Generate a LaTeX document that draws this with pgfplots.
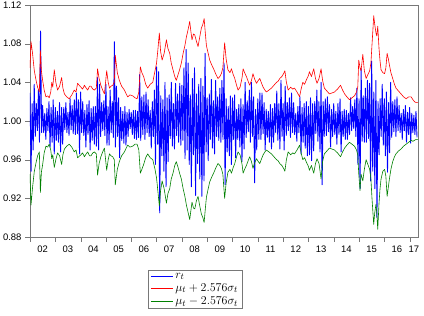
\documentclass[border=0pt]{standalone}
\usepackage{pgfplots}
\pgfplotsset{compat=1.18}
\usepackage{pgfplotstable}
\usepackage{fontspec}
\setmainfont{Liberation Sans}
\definecolor{axgray}{RGB}{120,120,120}
\definecolor{dgreen}{RGB}{0,128,0}

\pgfplotstableread[row sep=\\]{
r\\
1.029\\ 0.948\\ 1.018\\ 0.970\\ 1.038\\ 0.984\\ 1.018\\ 0.990\\ 1.032\\ 0.978\\ 1.093\\ 0.988\\ 1.016\\ 0.988\\ 1.008\\ 0.981\\ 1.013\\ 0.990\\ 1.020\\ 0.973\\ 1.014\\ 0.978\\ 1.022\\ 0.966\\
1.014\\ 0.980\\ 1.010\\ 0.978\\ 1.019\\ 0.968\\ 1.014\\ 0.976\\ 1.014\\ 0.991\\ 1.019\\ 0.988\\ 1.009\\ 0.985\\ 1.023\\ 0.991\\ 1.016\\ 0.987\\ 1.022\\ 0.986\\ 1.029\\ 0.987\\ 1.022\\ 0.966\\
1.030\\ 0.988\\ 1.020\\ 0.985\\ 1.011\\ 0.973\\ 1.017\\ 0.986\\ 1.021\\ 0.970\\ 1.013\\ 0.980\\ 1.015\\ 0.976\\ 1.015\\ 0.974\\ 1.045\\ 0.970\\ 1.038\\ 0.984\\ 1.019\\ 0.990\\ 1.021\\ 0.985\\
1.038\\ 0.975\\ 1.015\\ 0.975\\ 1.032\\ 0.988\\ 1.020\\ 0.983\\ 1.082\\ 0.973\\ 1.036\\ 0.984\\ 1.024\\ 0.962\\ 1.014\\ 0.980\\ 1.010\\ 0.977\\ 1.015\\ 0.975\\ 1.009\\ 0.984\\ 1.012\\ 0.992\\
1.009\\ 0.986\\ 1.011\\ 0.982\\ 1.011\\ 0.981\\ 1.010\\ 0.983\\ 1.048\\ 0.980\\ 1.025\\ 0.986\\ 1.027\\ 0.981\\ 1.030\\ 0.988\\ 1.022\\ 0.984\\ 1.011\\ 0.972\\ 1.020\\ 0.984\\ 1.032\\ 0.955\\
1.056\\ 0.976\\ 1.051\\ 0.905\\ 1.026\\ 0.964\\ 1.022\\ 0.948\\ 1.040\\ 0.932\\ 1.024\\ 0.958\\ 1.027\\ 0.982\\ 1.040\\ 0.974\\ 1.018\\ 0.971\\ 1.039\\ 0.985\\ 1.028\\ 0.978\\ 1.039\\ 0.975\\
1.037\\ 0.980\\ 1.055\\ 0.961\\ 1.074\\ 0.970\\ 1.060\\ 0.955\\ 1.027\\ 0.932\\ 1.044\\ 0.965\\ 1.055\\ 0.923\\ 1.028\\ 0.956\\ 1.038\\ 0.940\\ 1.044\\ 0.922\\ 1.036\\ 0.938\\ 1.070\\ 0.968\\
1.024\\ 0.959\\ 1.028\\ 0.981\\ 1.043\\ 0.972\\ 1.021\\ 0.966\\ 1.042\\ 0.984\\ 1.025\\ 0.980\\ 1.034\\ 0.978\\ 1.042\\ 0.981\\ 1.060\\ 0.934\\ 1.023\\ 0.968\\ 1.015\\ 0.964\\ 1.026\\ 0.955\\
1.024\\ 0.981\\ 1.027\\ 0.962\\ 1.012\\ 0.981\\ 1.017\\ 0.973\\ 1.023\\ 0.958\\ 1.017\\ 0.971\\ 1.040\\ 0.983\\ 1.021\\ 0.989\\ 1.032\\ 0.978\\ 1.040\\ 0.984\\ 1.025\\ 0.936\\ 1.012\\ 0.970\\
1.023\\ 0.981\\ 1.029\\ 0.981\\ 1.029\\ 0.987\\ 1.019\\ 0.970\\ 1.012\\ 0.983\\ 1.010\\ 0.978\\ 1.017\\ 0.971\\ 1.013\\ 0.978\\ 1.018\\ 0.988\\ 1.031\\ 0.980\\ 1.018\\ 0.971\\ 1.042\\ 0.984\\
1.018\\ 0.970\\ 1.036\\ 0.985\\ 1.019\\ 0.990\\ 1.024\\ 0.983\\ 1.029\\ 0.988\\ 1.019\\ 0.986\\ 1.008\\ 0.979\\ 1.015\\ 0.988\\ 1.025\\ 0.966\\ 1.014\\ 0.978\\ 1.018\\ 0.972\\ 1.020\\ 0.964\\
1.015\\ 0.965\\ 1.024\\ 0.959\\ 1.018\\ 0.969\\ 1.020\\ 0.987\\ 1.032\\ 0.979\\ 1.020\\ 0.968\\ 1.040\\ 0.934\\ 1.020\\ 0.984\\ 1.023\\ 0.985\\ 1.025\\ 0.989\\ 1.017\\ 0.973\\ 1.012\\ 0.984\\
1.018\\ 0.986\\ 1.010\\ 0.976\\ 1.018\\ 0.986\\ 1.023\\ 0.968\\ 1.010\\ 0.984\\ 1.012\\ 0.981\\ 1.011\\ 0.981\\ 1.008\\ 0.986\\ 1.024\\ 0.990\\ 1.015\\ 0.992\\ 1.022\\ 0.984\\ 1.034\\ 0.955\\
1.023\\ 0.930\\ 1.054\\ 0.979\\ 1.026\\ 0.978\\ 1.034\\ 0.978\\ 1.042\\ 0.982\\ 1.039\\ 0.938\\ 1.062\\ 0.948\\ 1.030\\ 0.930\\ 1.042\\ 0.900\\ 1.020\\ 0.965\\ 1.023\\ 0.984\\ 1.038\\ 0.975\\
1.023\\ 0.964\\ 1.030\\ 0.947\\ 1.019\\ 0.967\\ 1.040\\ 0.983\\ 1.020\\ 0.989\\ 1.022\\ 0.984\\ 1.025\\ 0.990\\ 1.016\\ 0.988\\ 1.008\\ 0.981\\ 1.012\\ 0.990\\ 1.016\\ 0.978\\ 1.009\\ 0.986\\
1.014\\ 0.977\\ 1.008\\ 0.988\\ 1.006\\ 0.986\\ 1.010\\ 0.983\\
}\ret

\pgfplotstableread[row sep=\\]{
x u l\\
2002.00 1.055 0.945\\ 2002.04 1.082 0.913\\ 2002.10 1.070 0.931\\ 2002.17 1.052 0.948\\ 2002.24 1.042 0.957\\
2002.30 1.035 0.964\\ 2002.37 1.030 0.968\\ 2002.41 1.073 0.926\\ 2002.45 1.052 0.947\\ 2002.50 1.042 0.955\\
2002.56 1.032 0.967\\ 2002.63 1.025 0.974\\ 2002.70 1.026 0.973\\ 2002.76 1.024 0.976\\ 2002.82 1.030 0.970\\
2002.86 1.040 0.961\\ 2002.90 1.035 0.965\\ 2002.96 1.053 0.952\\ 2003.02 1.040 0.960\\ 2003.09 1.032 0.967\\
2003.17 1.036 0.964\\ 2003.25 1.045 0.955\\ 2003.30 1.034 0.965\\ 2003.36 1.028 0.971\\ 2003.45 1.025 0.974\\
2003.55 1.023 0.976\\ 2003.65 1.027 0.973\\ 2003.75 1.032 0.968\\ 2003.82 1.030 0.970\\ 2003.88 1.039 0.962\\
2004.01 1.035 0.965\\ 2004.08 1.033 0.967\\ 2004.15 1.037 0.963\\ 2004.22 1.034 0.966\\ 2004.28 1.032 0.968\\
2004.35 1.036 0.964\\ 2004.41 1.036 0.964\\ 2004.48 1.033 0.967\\ 2004.54 1.032 0.968\\ 2004.62 1.034 0.966\\
2004.67 1.054 0.944\\ 2004.73 1.044 0.956\\ 2004.80 1.037 0.963\\ 2004.87 1.032 0.968\\ 2004.94 1.028 0.972\\
2005.03 1.052 0.949\\ 2005.09 1.040 0.960\\ 2005.14 1.034 0.966\\ 2005.20 1.036 0.964\\ 2005.27 1.037 0.963\\
2005.33 1.040 0.960\\ 2005.37 1.068 0.934\\ 2005.45 1.050 0.950\\ 2005.53 1.042 0.958\\ 2005.62 1.036 0.964\\
2005.73 1.032 0.968\\ 2005.80 1.028 0.972\\ 2005.86 1.025 0.975\\ 2005.95 1.027 0.973\\ 2006.06 1.026 0.974\\
2006.15 1.024 0.976\\ 2006.23 1.023 0.976\\ 2006.30 1.030 0.970\\ 2006.36 1.056 0.946\\ 2006.42 1.050 0.950\\
2006.49 1.046 0.955\\ 2006.57 1.038 0.962\\ 2006.65 1.034 0.966\\ 2006.75 1.038 0.962\\ 2006.85 1.040 0.960\\
2006.94 1.052 0.950\\ 2007.00 1.060 0.941\\ 2007.05 1.073 0.928\\ 2007.11 1.091 0.912\\ 2007.16 1.072 0.928\\
2007.22 1.063 0.938\\ 2007.30 1.070 0.930\\ 2007.39 1.084 0.915\\ 2007.45 1.075 0.925\\ 2007.52 1.070 0.930\\
2007.58 1.060 0.940\\ 2007.65 1.053 0.946\\ 2007.72 1.046 0.954\\ 2007.78 1.042 0.958\\ 2007.85 1.048 0.952\\
2007.91 1.053 0.946\\ 2007.98 1.060 0.940\\ 2008.05 1.070 0.930\\ 2008.12 1.078 0.922\\ 2008.18 1.087 0.913\\
2008.25 1.095 0.905\\ 2008.31 1.103 0.898\\ 2008.36 1.092 0.908\\ 2008.40 1.084 0.916\\ 2008.46 1.090 0.910\\
2008.51 1.089 0.909\\ 2008.58 1.082 0.918\\ 2008.64 1.077 0.922\\ 2008.70 1.086 0.913\\ 2008.77 1.096 0.904\\
2008.83 1.100 0.900\\ 2008.88 1.106 0.895\\ 2008.93 1.090 0.910\\ 2008.97 1.078 0.921\\ 2009.04 1.070 0.930\\
2009.10 1.063 0.937\\ 2009.18 1.058 0.942\\ 2009.27 1.053 0.947\\ 2009.35 1.048 0.952\\ 2009.43 1.044 0.956\\
2009.50 1.046 0.954\\ 2009.56 1.049 0.951\\ 2009.62 1.055 0.945\\ 2009.69 1.081 0.920\\ 2009.75 1.064 0.936\\
2009.82 1.053 0.947\\ 2009.90 1.050 0.950\\ 2009.96 1.054 0.946\\ 2010.03 1.048 0.952\\ 2010.09 1.044 0.956\\
2010.15 1.038 0.962\\ 2010.22 1.032 0.968\\ 2010.30 1.035 0.965\\ 2010.38 1.045 0.955\\ 2010.42 1.054 0.946\\
2010.48 1.050 0.950\\ 2010.55 1.046 0.954\\ 2010.62 1.041 0.959\\ 2010.68 1.037 0.963\\ 2010.75 1.042 0.958\\
2010.81 1.049 0.951\\ 2010.88 1.043 0.957\\ 2010.95 1.039 0.961\\ 2011.02 1.042 0.958\\ 2011.08 1.044 0.956\\
2011.15 1.039 0.961\\ 2011.21 1.035 0.965\\ 2011.28 1.032 0.968\\ 2011.34 1.030 0.970\\ 2011.44 1.032 0.968\\
2011.54 1.034 0.966\\ 2011.64 1.037 0.963\\ 2011.74 1.040 0.960\\ 2011.80 1.041 0.959\\ 2011.87 1.044 0.956\\
2011.95 1.046 0.954\\ 2012.02 1.049 0.951\\ 2012.07 1.052 0.948\\ 2012.13 1.040 0.960\\ 2012.20 1.032 0.968\\
2012.30 1.035 0.965\\ 2012.38 1.033 0.967\\ 2012.45 1.034 0.966\\ 2012.55 1.030 0.970\\ 2012.65 1.025 0.975\\
2012.72 1.034 0.966\\ 2012.78 1.040 0.960\\ 2012.85 1.038 0.962\\ 2012.91 1.042 0.958\\ 2013.00 1.047 0.953\\
2013.04 1.051 0.949\\ 2013.12 1.046 0.954\\ 2013.21 1.054 0.946\\ 2013.28 1.044 0.956\\ 2013.34 1.039 0.961\\
2013.42 1.044 0.956\\ 2013.50 1.054 0.940\\ 2013.56 1.042 0.958\\ 2013.63 1.034 0.966\\ 2013.73 1.031 0.969\\
2013.83 1.028 0.972\\ 2013.93 1.029 0.971\\ 2014.03 1.030 0.970\\ 2014.15 1.033 0.967\\ 2014.27 1.037 0.963\\
2014.35 1.032 0.968\\ 2014.43 1.028 0.972\\ 2014.52 1.025 0.975\\ 2014.62 1.022 0.978\\ 2014.72 1.024 0.976\\
2014.82 1.026 0.974\\ 2014.90 1.030 0.970\\ 2014.95 1.035 0.965\\ 2014.99 1.063 0.945\\ 2015.04 1.055 0.928\\
2015.08 1.052 0.945\\ 2015.15 1.069 0.938\\ 2015.21 1.052 0.950\\ 2015.28 1.044 0.960\\ 2015.35 1.048 0.955\\
2015.42 1.052 0.950\\ 2015.47 1.060 0.940\\ 2015.51 1.078 0.921\\ 2015.55 1.095 0.905\\ 2015.58 1.109 0.893\\
2015.62 1.100 0.905\\ 2015.67 1.091 0.914\\ 2015.70 1.088 0.905\\ 2015.74 1.098 0.888\\ 2015.79 1.075 0.915\\
2015.83 1.062 0.930\\ 2015.87 1.053 0.940\\ 2015.94 1.050 0.948\\ 2016.01 1.049 0.950\\ 2016.06 1.055 0.943\\
2016.11 1.070 0.922\\ 2016.16 1.064 0.932\\ 2016.20 1.058 0.940\\ 2016.26 1.050 0.950\\ 2016.33 1.044 0.958\\
2016.40 1.038 0.963\\ 2016.46 1.034 0.966\\ 2016.56 1.031 0.969\\ 2016.66 1.028 0.971\\ 2016.76 1.025 0.974\\
2016.86 1.023 0.976\\ 2016.96 1.025 0.978\\ 2017.06 1.025 0.980\\ 2017.13 1.022 0.979\\ 2017.19 1.020 0.980\\
2017.26 1.019 0.981\\ 2017.32 1.019 0.981\\
}\bands

\begin{document}
\begin{tikzpicture}
\begin{axis}[
  at={(30bp,79bp)}, anchor=south west,
  scale only axis, width=388bp, height=232bp,
  xmin=2002, xmax=2017.33, ymin=0.88, ymax=1.12,
  axis line style={draw=axgray},
  tick style={draw=axgray},
  tick align=outside,
  xtick pos=bottom, ytick pos=left,
  major tick length=5bp, minor tick length=2.5bp,
  xtick={2002,2003,...,2018},
  xticklabels={},
  minor x tick num=3,
  extra x ticks={2002.5,2003.5,2004.5,2005.5,2006.5,2007.5,2008.5,2009.5,2010.5,2011.5,2012.5,2013.5,2014.5,2015.5,2016.5,2017.17},
  extra x tick labels={02,03,04,05,06,07,08,09,10,11,12,13,14,15,16,17},
  extra x tick style={tick style={draw=none}},
  ytick={0.88,0.92,0.96,1.00,1.04,1.08,1.12},
  yticklabels={0.88,0.92,0.96,1.00,1.04,1.08,1.12},
  /pgf/number format/assume math mode=true,
  tick label style={font=\fontsize{9.5}{11}\selectfont},
  legend style={at={(0.305,-0.143)}, anchor=north west, draw=axgray,
    font=\fontsize{12.5}{13}\selectfont, inner xsep=2bp, inner ysep=0.5bp,
    row sep=0bp, cells={anchor=west}},
  legend image code/.code={\draw[#1] (0bp,0bp) -- (22bp,0bp);},
]
\addplot[blue, line width=0.9pt, line join=round] table[x expr=2002+\coordindex/24, y=r] {\ret};
\addlegendentry{$r_t$}
\addplot[red, line width=0.6pt, line join=round] table[x=x, y=u] {\bands};
\addlegendentry{$\mu_t+2.576\sigma_t$}
\addplot[dgreen, line width=0.6pt, line join=round] table[x=x, y=l] {\bands};
\addlegendentry{$\mu_t-2.576\sigma_t$}
\end{axis}
\pgfresetboundingbox
\path[use as bounding box] (0,0) rectangle (424bp,316bp);
\end{tikzpicture}
\end{document}
